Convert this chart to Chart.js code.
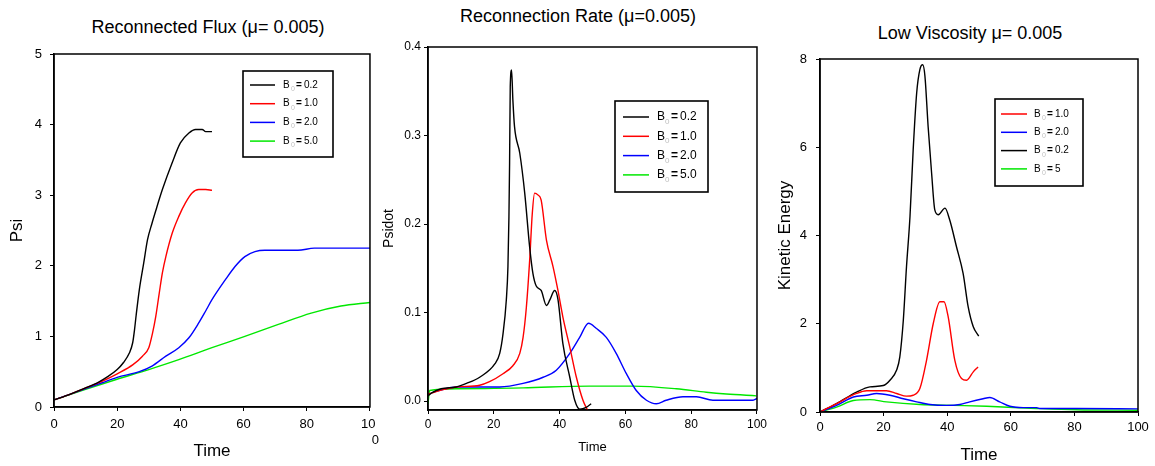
<!DOCTYPE html>
<html>
<head>
<meta charset="utf-8">
<script src="https://cdn.jsdelivr.net/npm/chart.js@4.4.1/dist/chart.umd.min.js"></script>
<style>
  html, body { margin: 0; padding: 0; background: #fff; }
  body { width: 1155px; height: 466px; position: relative; overflow: hidden; }
  canvas { position: absolute; top: 0; }
  .title { position: absolute; font: 18px 'Liberation Sans', Arial, sans-serif; color: #000;
           white-space: nowrap; transform: translate(-50%, -50%); }
</style>
</head>
<body>
<div class="title" style="left:208px;top:27px">Reconnected Flux (μ= 0.005)</div>
<div class="title" style="left:578px;top:16px">Reconnection Rate (μ=0.005)</div>
<div class="title" style="left:970px;top:33px">Low Viscosity μ= 0.005</div>
<canvas id="fluxChart" width="385" height="466" style="left:0"></canvas>
<canvas id="rateChart" width="395" height="466" style="left:375px"></canvas>
<canvas id="keChart" width="385" height="466" style="left:770px"></canvas>
<script>
// [time, value] pairs
const fluxB02 = [[0,0.1],[5,0.18],[10,0.27],[14,0.35],[17,0.43],[20,0.53],[22,0.63],[23.8,0.76],[24.9,0.91],[25.5,1.1],[26,1.3],[27,1.66],[28.4,2.04],[29.6,2.37],[31,2.6],[32.2,2.78],[34.3,3.08],[37.4,3.46],[40,3.74],[42.7,3.88],[44.8,3.93],[46.9,3.93],[48,3.9],[50,3.9]];
const fluxB10 = [[0,0.1],[5,0.18],[10,0.27],[15,0.36],[20,0.47],[25,0.6],[28,0.72],[30,0.84],[31.2,1.05],[32.2,1.28],[33.3,1.61],[34.3,1.9],[35.4,2.13],[37.4,2.46],[39.5,2.7],[41.6,2.89],[43.7,3.03],[45.8,3.08],[48,3.08],[50,3.07]];
const fluxB20 = [[0,0.1],[5,0.18],[10,0.26],[15,0.34],[20,0.42],[27,0.5],[31,0.58],[35.4,0.72],[39.5,0.84],[42.7,0.98],[45.8,1.19],[48,1.36],[50,1.52],[54.2,1.8],[57.3,1.99],[60.4,2.13],[63.6,2.2],[66.7,2.22],[77.2,2.22],[82.4,2.25],[100,2.25]];
const fluxB50 = [[0,0.1],[10,0.25],[19.7,0.39],[30,0.53],[39.5,0.67],[50,0.84],[60.4,1.0],[71,1.17],[81.4,1.33],[90.8,1.43],[100,1.48]];

const rateB02 = [[0,0.006],[1,0.009],[4,0.014],[8.6,0.016],[11.7,0.02],[15.7,0.027],[20.3,0.042],[21.8,0.054],[22.8,0.076],[23.8,0.114],[24.3,0.152],[24.6,0.208],[24.8,0.269],[25,0.355],[25.4,0.374],[25.8,0.34],[26.3,0.31],[27.9,0.28],[29.4,0.235],[30.9,0.174],[31.9,0.144],[32.9,0.13],[34.4,0.125],[36,0.108],[37,0.114],[38.5,0.125],[39.5,0.115],[41,0.065],[43.1,0.027],[44.6,0.001],[46.1,-0.009],[48.1,-0.007],[49.6,-0.003]];
const rateB10 = [[0,0.008],[1,0.009],[4.6,0.013],[8.6,0.016],[15.7,0.018],[18.7,0.022],[22.8,0.031],[25.8,0.04],[27.9,0.054],[28.9,0.072],[29.9,0.106],[30.9,0.159],[31.7,0.212],[32.4,0.235],[33.4,0.233],[34.4,0.227],[36,0.182],[38,0.152],[39.5,0.125],[41,0.095],[43.1,0.061],[45.1,0.027],[47.1,0.001],[48.6,-0.011]];
const rateB20 = [[1.5,0.01],[8.6,0.016],[21.8,0.016],[28.9,0.02],[35,0.027],[39,0.035],[43.1,0.054],[46.1,0.072],[48.8,0.088],[51.2,0.082],[54.2,0.072],[57.2,0.054],[60.3,0.031],[63.3,0.012],[66.4,0.001],[69.4,-0.003],[72.4,0.001],[77.5,0.005],[81.6,0.005],[86.6,0.001],[98.8,0.001],[100,0.003]];
const rateB50 = [[0,-0.003],[0.5,0.012],[8.6,0.014],[28.9,0.015],[49,0.017],[62.3,0.017],[75.5,0.014],[84.6,0.01],[90.7,0.008],[99.8,0.006]];

const keB10 = [[0,0],[5.2,0.19],[11.5,0.42],[14.7,0.48],[20.9,0.48],[24.1,0.42],[27.2,0.36],[29.3,0.38],[31.4,0.53],[33.5,1.17],[35.6,2.0],[37.7,2.5],[39,2.5],[40.3,2.16],[42.4,1.17],[44.5,0.76],[46.1,0.72],[48.2,0.91],[49.7,1.02]];
const keB20 = [[0,0],[5.2,0.15],[10.5,0.34],[14.7,0.38],[17.8,0.42],[22,0.38],[26.2,0.3],[30.4,0.23],[34.6,0.17],[39.8,0.15],[44,0.17],[47.1,0.23],[51.3,0.3],[53.4,0.33],[56.5,0.23],[59.7,0.13],[63.9,0.1],[68.1,0.1],[69.1,0.08],[80.6,0.08],[100,0.07]];
const keB02 = [[0,0],[5.2,0.19],[11.5,0.45],[15.7,0.57],[19.9,0.6],[22,0.72],[24.1,0.95],[25.1,1.25],[26.2,2.08],[27.2,3.29],[28.3,4.43],[29.3,5.94],[30.4,7.23],[31.4,7.76],[32.3,7.87],[33,7.61],[34,6.47],[35.1,5.41],[36.1,4.58],[37.2,4.47],[39.3,4.62],[40.8,4.35],[42.9,3.75],[45,3.14],[46.6,2.38],[48.2,1.93],[49.9,1.72]];
const keB50 = [[0,0],[5.2,0.11],[10.5,0.26],[15.7,0.28],[20.9,0.23],[31.4,0.17],[41.9,0.15],[52.4,0.13],[68.1,0.08],[80.6,0.05],[100,0.04]];

// tick values and labels
const timeTicks = [0, 20, 40, 60, 80, 100];
const fluxTimeLabels = ['0', '20', '40', '60', '80', ['10 ', '   0']];
const timeLabels = ['0', '20', '40', '60', '80', '100'];
const fluxTicks = [0, 1, 2, 3, 4, 5];
const rateTicks = [0, 0.1, 0.2, 0.3, 0.4];
const rateLabels = ['0.0', '0.1', '0.2', '0.3', '0.4'];
const keTicks = [0, 2, 4, 6, 8];

const colors = { b02: '#000000', b10: '#ff0000', b20: '#0000ff', b50: '#00e800' };
const SANS = "'Liberation Sans', Arial, sans-serif";

const framePlugin = {
    id: 'frame',
    afterDatasetsDraw(chart) {
        const { ctx, chartArea: a } = chart;
        ctx.save();
        ctx.strokeStyle = '#000';
        ctx.lineWidth = 1.5;
        ctx.strokeRect(a.left, a.top, a.right - a.left, a.bottom - a.top);
        ctx.restore();
    }
};

// boxed legend inside the plot, "B0 = value"
const boxLegend = {
    id: 'boxLegend',
    afterDraw(chart, args, o) {
        const ctx = chart.ctx;
        const [bx, by, bw, bh] = o.box;
        ctx.save();
        ctx.fillStyle = '#fff';
        ctx.fillRect(bx, by, bw, bh);
        ctx.strokeStyle = '#000';
        ctx.lineWidth = 1.6;
        ctx.strokeRect(bx, by, bw, bh);
        ctx.textBaseline = 'middle';
        chart.data.datasets.forEach((ds, i) => {
            const y = o.rowY + i * o.rowGap;
            ctx.strokeStyle = ds.borderColor;
            ctx.lineWidth = 1.5;
            ctx.beginPath();
            ctx.moveTo(o.lineX[0], y);
            ctx.lineTo(o.lineX[1], y);
            ctx.stroke();
            ctx.fillStyle = '#000';
            ctx.font = `${o.size}px ${SANS}`;
            ctx.fillText('B', o.textX, y);
            ctx.fillText(ds.label, o.textX + o.valDx, y);
            ctx.font = `bold ${o.size}px ${SANS}`;
            ctx.fillText('=', o.textX + o.eqDx, y);
            ctx.fillStyle = '#c0c0c0';
            ctx.font = `${Math.round(o.size * 0.7)}px ${SANS}`;
            ctx.fillText('0', o.textX + o.subDx, y + o.size * 0.4);
        });
        ctx.restore();
    }
};

function makeChart(id, cfg) {
    const tickGrid = { drawOnChartArea: false, drawTicks: true, tickLength: 4, color: '#000', lineWidth: 1 };
    return new Chart(document.getElementById(id), {
        type: 'line',
        data: {
            datasets: cfg.series.map(s => ({
                label: s.label,
                data: s.points.map(([x, y]) => ({ x, y })),
                borderColor: s.color,
                borderWidth: 1.4,
                pointRadius: 0,
                cubicInterpolationMode: 'monotone',
                fill: false
            }))
        },
        options: {
            responsive: false,
            animation: false,
            layout: { padding: { left: 0, top: cfg.top, right: cfg.right, bottom: 0 } },
            plugins: { legend: { display: false }, tooltip: { enabled: false }, boxLegend: cfg.legend },
            scales: {
                x: {
                    type: 'linear', min: 0, max: 100,
                    afterFit: s => { s.height = cfg.xHeight; },
                    afterBuildTicks: s => { s.ticks = timeTicks.map(v => ({ value: v })); },
                    ticks: {
                        autoSkip: false, maxRotation: 0, color: '#000', padding: cfg.xTickPad,
                        font: { family: SANS, size: cfg.tickSize },
                        callback: (v, i) => cfg.xLabels[i]
                    },
                    grid: tickGrid,
                    border: { color: '#000', width: 1.5 },
                    title: {
                        display: true, text: 'Time', color: '#000',
                        font: { family: SANS, size: cfg.xTitleSize, lineHeight: 1 },
                        padding: { top: 0, bottom: cfg.xTitlePad }
                    }
                },
                y: {
                    type: 'linear', min: cfg.yMin, max: cfg.yMax,
                    afterFit: s => { s.width = cfg.yWidth; },
                    afterBuildTicks: s => { s.ticks = cfg.yTicks.map(v => ({ value: v })); },
                    ticks: {
                        autoSkip: false, color: '#000', padding: cfg.yTickPad,
                        font: { family: SANS, size: cfg.tickSize },
                        callback: (v, i) => cfg.yLabels[i]
                    },
                    grid: tickGrid,
                    border: { color: '#000', width: 1.5 },
                    title: {
                        display: true, text: cfg.yTitle, color: '#000',
                        font: { family: SANS, size: cfg.yTitleSize, lineHeight: 1 },
                        padding: { top: cfg.yTitlePad, bottom: 0 }
                    }
                }
            }
        },
        plugins: [framePlugin, boxLegend]
    });
}

makeChart('fluxChart', {
    series: [
        { label: '0.2', points: fluxB02, color: colors.b02 },
        { label: '1.0', points: fluxB10, color: colors.b10 },
        { label: '2.0', points: fluxB20, color: colors.b20 },
        { label: '5.0', points: fluxB50, color: colors.b50 }
    ],
    top: 54, right: 12, xHeight: 59, yWidth: 54,
    yMin: 0, yMax: 5, yTicks: fluxTicks, yLabels: fluxTicks.map(String),
    xLabels: fluxTimeLabels,
    tickSize: 13, xTickPad: 6, yTickPad: 8,
    yTitle: 'Psi', yTitleSize: 17, yTitlePad: 8.5,
    xTitleSize: 17, xTitlePad: 6.5,
    legend: { box: [243, 71, 90, 86], lineX: [250, 275], rowY: 85, rowGap: 18.7, textX: 283, subDx: 8, eqDx: 13, valDx: 21, size: 10 }
});

makeChart('rateChart', {
    series: [
        { label: '0.2', points: rateB02, color: colors.b02 },
        { label: '1.0', points: rateB10, color: colors.b10 },
        { label: '2.0', points: rateB20, color: colors.b20 },
        { label: '5.0', points: rateB50, color: colors.b50 }
    ],
    top: 47, right: 13, xHeight: 56, yWidth: 53,
    yMin: -0.01, yMax: 0.4, yTicks: rateTicks, yLabels: rateLabels,
    xLabels: timeLabels,
    tickSize: 12, xTickPad: 3, yTickPad: 3,
    yTitle: 'Psidot', yTitleSize: 14, yTitlePad: 7,
    xTitleSize: 13, xTitlePad: 12.5,
    legend: { box: [240, 101, 93, 91], lineX: [248, 274], rowY: 117, rowGap: 19.3, textX: 282, subDx: 8, eqDx: 14, valDx: 23, size: 12 }
});

makeChart('keChart', {
    series: [
        { label: '1.0', points: keB10, color: colors.b10 },
        { label: '2.0', points: keB20, color: colors.b20 },
        { label: '0.2', points: keB02, color: colors.b02 },
        { label: '5', points: keB50, color: colors.b50 }
    ],
    top: 59, right: 17, xHeight: 54, yWidth: 50,
    yMin: 0, yMax: 8, yTicks: keTicks, yLabels: keTicks.map(String),
    xLabels: timeLabels,
    tickSize: 13, xTickPad: 4, yTickPad: 9,
    yTitle: 'Kinetic Energy', yTitleSize: 17, yTitlePad: 6.5,
    xTitleSize: 17, xTitlePad: 2.5,
    legend: { box: [225, 99, 88, 87], lineX: [231, 257], rowY: 114, rowGap: 18.3, textX: 264, subDx: 8, eqDx: 13, valDx: 21, size: 10 }
});
</script>
</body>
</html>
